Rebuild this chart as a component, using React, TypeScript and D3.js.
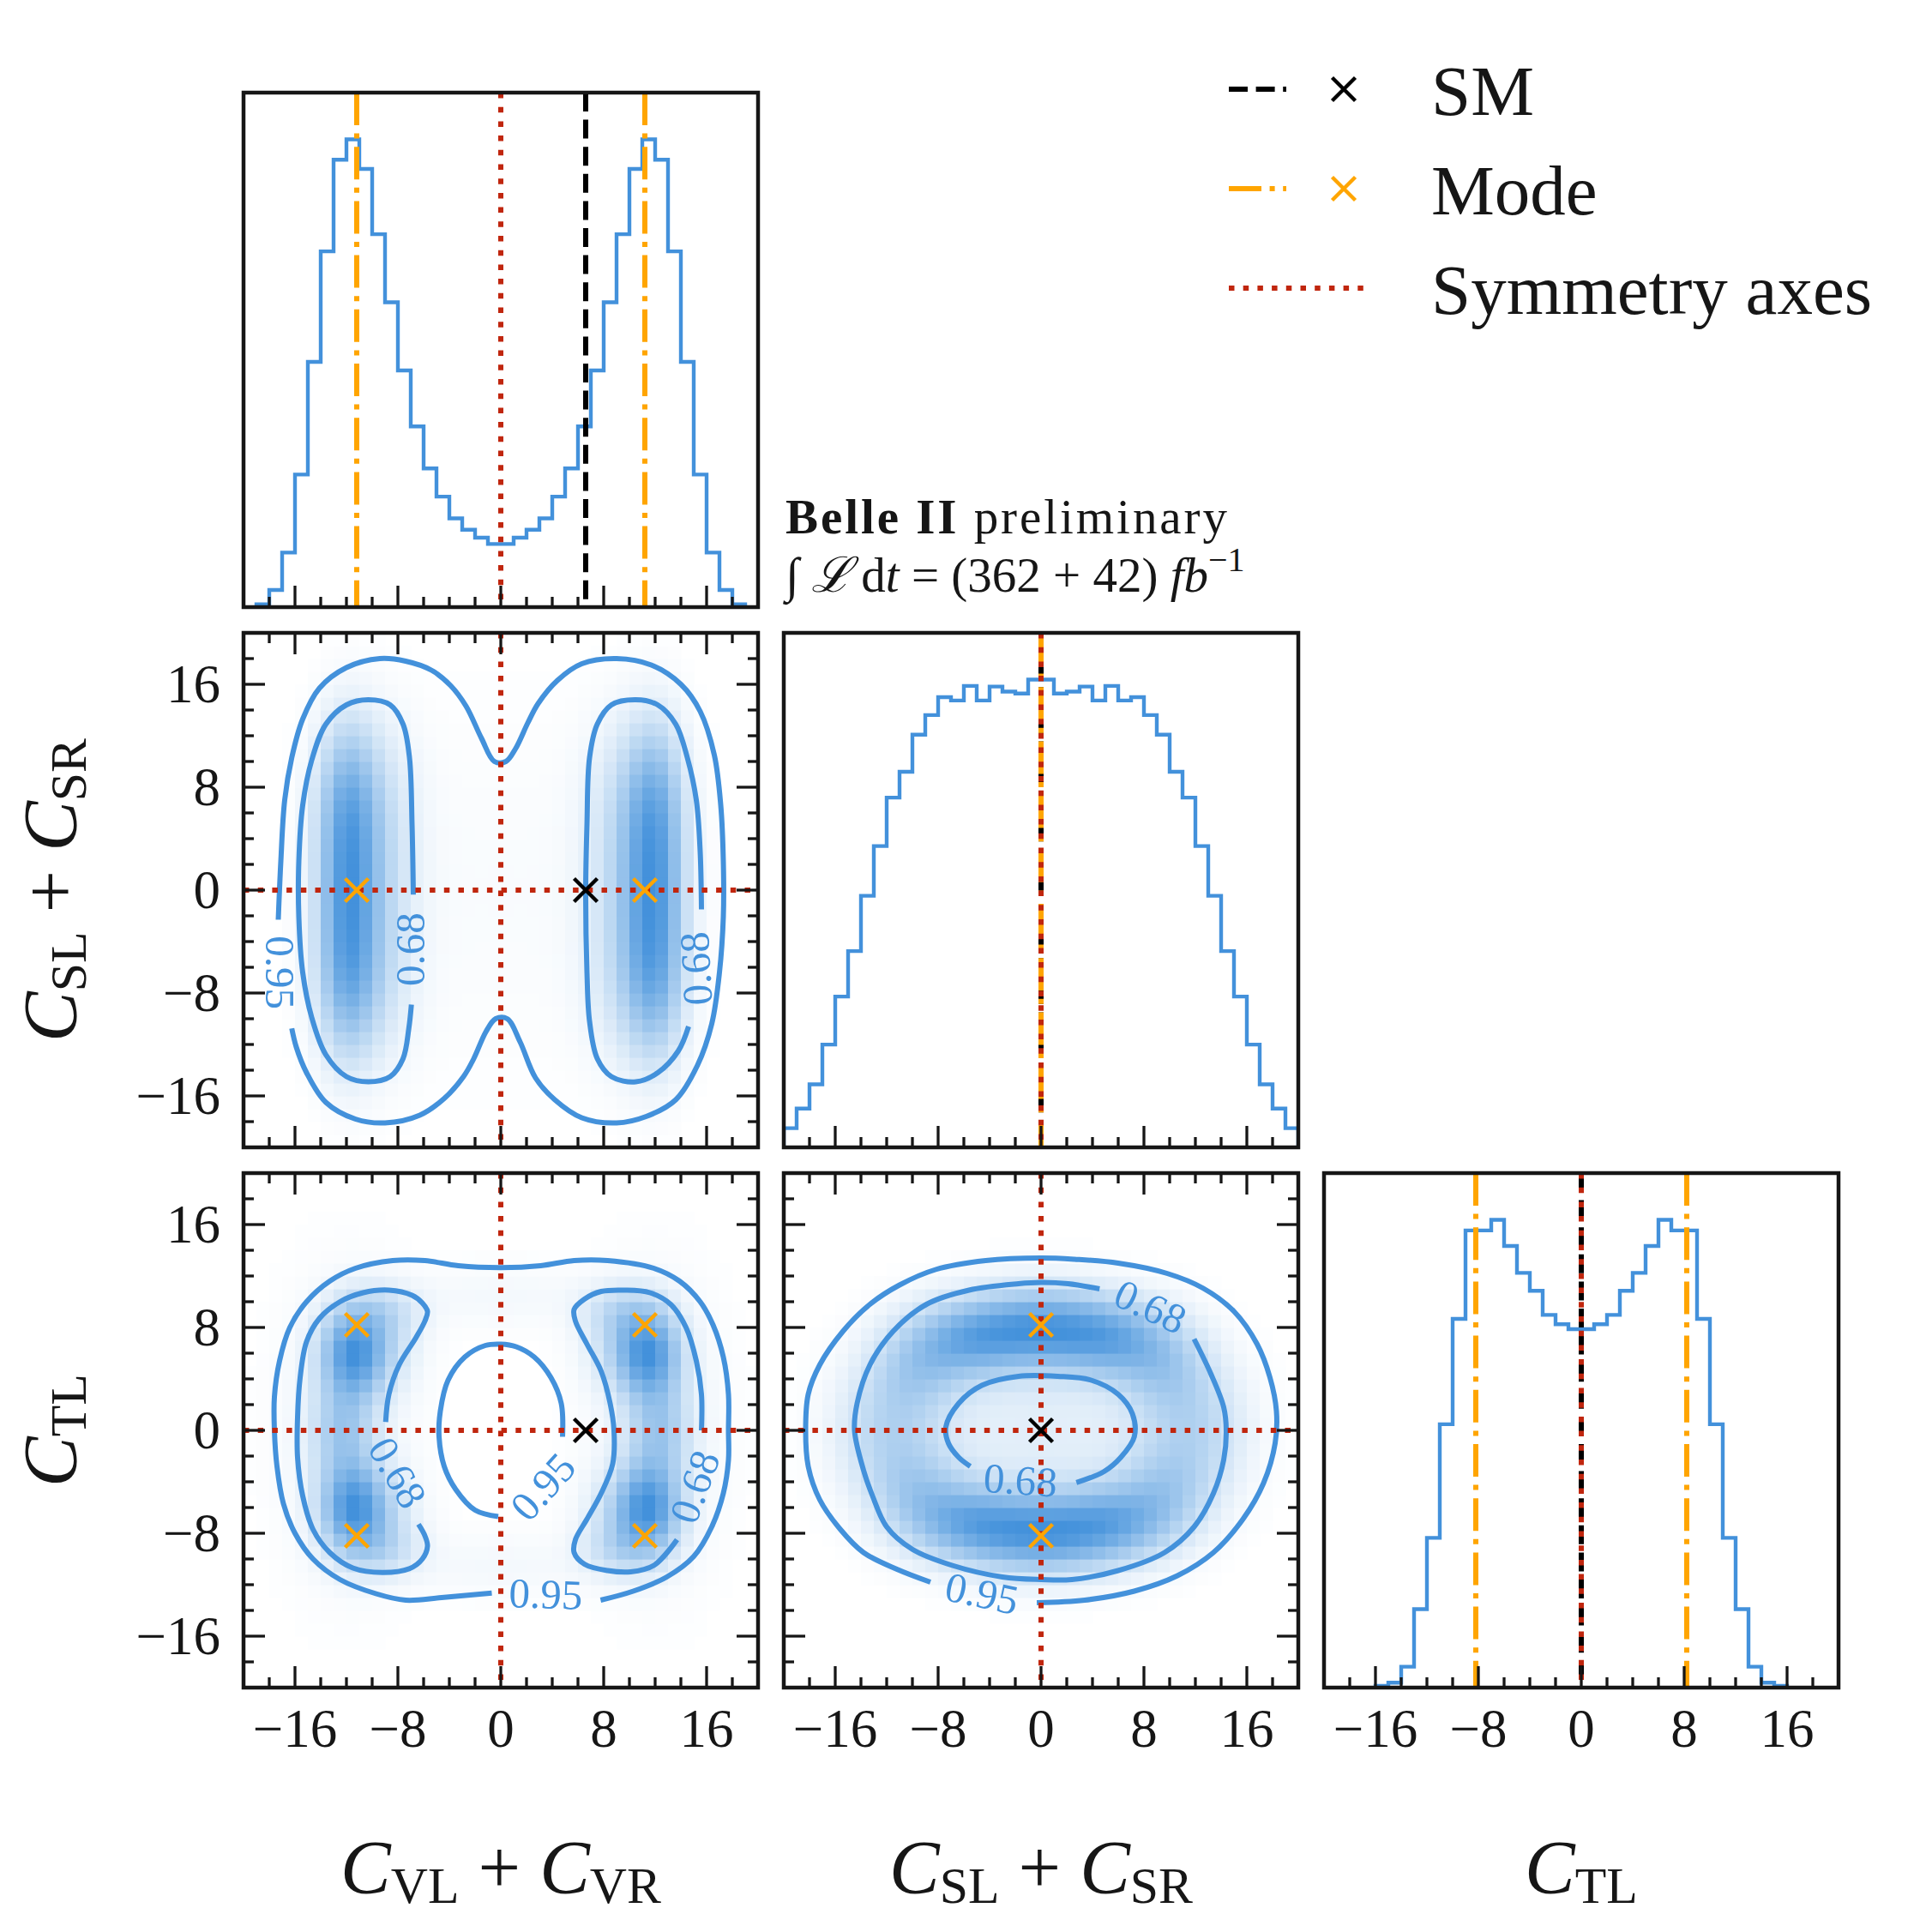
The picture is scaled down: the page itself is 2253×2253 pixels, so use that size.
import * as d3 from 'd3'

// ---------- layout ----------
const SIZE = 2253
const PANEL = 600
const COL_X = [284, 914, 1544]
const ROW_Y = [108, 738, 1368]
const DOMAIN: [number, number] = [-20, 20]
const FONT = '"Liberation Serif", "DejaVu Serif", serif'

const BLUE = '#4391db'
const ORANGE = '#ffa500'
const RED = '#c0260e'
const INK = '#161616'

const MAJOR = [-16, -8, 0, 8, 16]
const MINOR = [-18, -14, -12, -10, -6, -4, -2, 2, 4, 6, 10, 12, 14, 18]

// ---------- 1D marginals (unit-width bins) ----------
const CV_BIN_START = -19
const CV_COUNTS = [8, 48, 153, 372, 688, 998, 1255, 1312, 1229, 1046, 855, 664, 507, 389, 310, 249, 217, 195, 177,
  177, 195, 217, 249, 310, 389, 507, 664, 855, 1046, 1229, 1312, 1255, 998, 688, 372, 153, 48, 8]
const CS_BIN_START = -20
const CS_COUNTS = [58, 117, 190, 310, 455, 592, 759, 909, 1055, 1133, 1245, 1304, 1358, 1348, 1392, 1348, 1390, 1375, 1369, 1411,
  1411, 1369, 1375, 1390, 1348, 1392, 1348, 1358, 1304, 1245, 1133, 1055, 909, 759, 592, 455, 310, 190, 117, 58]
const CT_BIN_START = -16
const CT_COUNTS = [5, 15, 63, 237, 452, 795, 1113, 1380, 1380, 1412, 1333, 1252, 1198, 1125, 1097, 1082,
  1082, 1097, 1125, 1198, 1252, 1333, 1412, 1380, 1380, 1113, 795, 452, 237, 63, 15, 5]

// reference values
const SM_CV = 6.6
const SM_CS = 0
const SM_CT = 0
const MODE_CV = [-11.2, 11.2]
const MODE_CS = [0]
const MODE_CT = [-8.2, 8.2]
const SYM = 0

// ---------- 2D density blobs: [cx, cy, sx, sy, weight] ----------
const BLOBS_VS = [
  // left band
  [-12, -8, 1.6, 4.2, 1], [-12, -2.7, 1.6, 4.2, 1], [-12, 2.7, 1.6, 4.2, 1], [-12, 8, 1.6, 4.2, 1],
  [-9.8, -8, 2.2, 4.2, 0.4], [-9.8, -2.7, 2.2, 4.2, 0.4], [-9.8, 2.7, 2.2, 4.2, 0.4], [-9.8, 8, 2.2, 4.2, 0.4],
  // right band
  [12, -8, 1.6, 4.2, 1], [12, -2.7, 1.6, 4.2, 1], [12, 2.7, 1.6, 4.2, 1], [12, 8, 1.6, 4.2, 1],
  [9.8, -8, 2.2, 4.2, 0.4], [9.8, -2.7, 2.2, 4.2, 0.4], [9.8, 2.7, 2.2, 4.2, 0.4], [9.8, 8, 2.2, 4.2, 0.4],
  // faint floor
  [0, 0, 9, 10, 0.08],
]
const BLOBS_VT = [
  [-11.6, 6, 1.7, 2.4, 1], [-11.6, -6, 1.7, 2.4, 1], [-12.3, 0, 1.7, 2.6, 0.55],
  [-9.8, 6.3, 2.1, 2.3, 0.35], [-9.8, -6.3, 2.1, 2.3, 0.35],
  [-9.2, 9.3, 2.1, 1.5, 0.3], [-9.2, -9.3, 2.1, 1.5, 0.3],
  [-12, 0, 3.6, 8, 0.12],
  [11.6, 6, 1.7, 2.4, 1], [11.6, -6, 1.7, 2.4, 1], [12.3, 0, 1.7, 2.6, 0.55],
  [9.8, 6.3, 2.1, 2.3, 0.35], [9.8, -6.3, 2.1, 2.3, 0.35],
  [9.2, 9.3, 2.1, 1.5, 0.3], [9.2, -9.3, 2.1, 1.5, 0.3],
  [12, 0, 3.6, 8, 0.12],
  [0, 10.5, 5, 1.8, 0.08], [0, -10.5, 5, 1.8, 0.08],
]
const BLOBS_ST = [
  [0, 8, 3.5, 2.1, 1], [0, -8, 3.5, 2.1, 1],
  [-5.5, 7.2, 3, 2.1, 0.75], [5.5, 7.2, 3, 2.1, 0.75], [-5.5, -7.2, 3, 2.1, 0.75], [5.5, -7.2, 3, 2.1, 0.75],
  [-9.5, 5, 2.6, 2.6, 0.45], [9.5, 5, 2.6, 2.6, 0.45], [-9.5, -5, 2.6, 2.6, 0.45], [9.5, -5, 2.6, 2.6, 0.45],
  [-12, 0, 2.8, 3.5, 0.42], [12, 0, 2.8, 3.5, 0.42],
  [0, 0, 7, 5.5, 0.2],
]

// ---------- credible-region contours (data units) ----------
const VS_95 = [[-16.25, -10.75], [-15.9, -12.2], [-15.1, -14.2], [-13.6, -16.5], [-11.3, -17.8], [-9.0, -18.1], [-6.3, -17.5],
  [-4.4, -16.2], [-2.9, -14.5], [-2.1, -13.1], [-1.15, -11.0], [-0.4, -10.0], [0.5, -10.0], [1.5, -11.8], [2.7, -14.6],
  [4.2, -16.3], [6.3, -17.7], [9.0, -18.1], [11.3, -17.6], [13.6, -16.3], [15.3, -13.6], [16.4, -10.4], [17.0, -6.4],
  [17.3, -2.1], [17.3, 2.25], [17.1, 6.6], [16.6, 10.5], [15.5, 13.9], [14.0, 16.0], [11.7, 17.5], [9.0, 18.0],
  [6.3, 17.6], [4.4, 16.3], [2.9, 14.5], [2.1, 13.0], [1.15, 11.0], [0.4, 10.0], [-0.5, 10.0], [-1.5, 11.8],
  [-2.7, 14.3], [-3.9, 15.9], [-5.4, 17.1], [-7.4, 17.8], [-9.4, 18.0], [-12.0, 17.3], [-14.1, 15.7], [-15.4, 13.3],
  [-16.25, 10.3], [-16.8, 7.0], [-17.1, 2.25], [-17.3, -2.3]]
const VS_68_L = [[-6.95, -8.9], [-7.15, -10.75], [-7.6, -13.1], [-8.6, -14.5], [-10.3, -14.9], [-12.0, -14.5], [-13.6, -12.8],
  [-14.7, -9.9], [-15.4, -6.4], [-15.7, -2.1], [-15.7, 2.25], [-15.4, 6.6], [-14.7, 10.1], [-13.6, 12.9], [-12.0, 14.4],
  [-10.3, 14.8], [-8.6, 14.4], [-7.6, 12.9], [-7.1, 10.3], [-6.9, 5.1], [-6.8, -0.35]]
const VS_68_R = [[14.6, -10.6], [13.8, -12.5], [12.2, -14.2], [10.5, -14.9], [8.6, -14.5], [7.5, -13.1], [6.9, -10.2],
  [6.7, -6.4], [6.6, 0], [6.7, 5.1], [6.9, 10.3], [7.5, 12.9], [8.6, 14.4], [10.5, 14.8], [12.2, 14.4], [13.6, 12.9],
  [14.5, 10.3], [15.2, 7.0], [15.5, 3.0], [15.6, -1.5]]
const VS_LABELS: [string, number, number, number][] = [
  ['0.95', -17.2, -6.4, 90], ['0.68', -7.0, -4.6, -90], ['0.68', 15.2, -6.1, -93]]

const VT_95_OUT = [[7.76, -13.2], [10.3, -12.5], [12.9, -11.4], [15.0, -9.8], [16.4, -7.5], [17.3, -4.9], [17.7, -2.3],
  [17.7, 0], [17.7, 2.8], [17.3, 5.7], [16.5, 8.2], [15.5, 10.0], [13.9, 11.6], [11.9, 12.6], [8.3, 13.2], [5.7, 13.2],
  [3.1, 12.8], [0, 12.65], [-3.3, 12.8], [-5.9, 13.2], [-8.4, 13.2], [-11.3, 12.6], [-13.3, 11.6], [-15.1, 10.0],
  [-16.4, 8.0], [-17.2, 5.4], [-17.6, 2.6], [-17.6, 0], [-17.4, -2.8], [-16.9, -5.7], [-16.0, -8.0], [-14.6, -10.0],
  [-12.5, -11.6], [-9.7, -12.7], [-7.4, -13.2], [-4.6, -13.0], [-0.7, -12.65]]
const VT_95_IN = [[4.8, -0.5], [4.7, 2.1], [3.9, 4.1], [2.6, 5.7], [1.2, 6.5], [0, 6.7], [-1.2, 6.6], [-2.8, 5.7],
  [-4.1, 3.9], [-4.7, 1.5], [-4.8, -0.5], [-4.4, -2.8], [-3.5, -4.6], [-2.0, -6.2], [-0.2, -6.7]]
const VT_68_L = [[-6.4, -7.3], [-5.9, -8.2], [-5.7, -9.0], [-6.1, -10.0], [-7.1, -10.75], [-9.2, -11.05], [-11.5, -10.7],
  [-13.3, -9.5], [-14.6, -7.7], [-15.4, -5.1], [-15.8, -2.1], [-15.8, 1.0], [-15.6, 4.1], [-15.1, 6.9], [-14.1, 8.7],
  [-12.5, 10.0], [-10.7, 10.7], [-8.7, 10.9], [-6.9, 10.5], [-6.1, 9.9], [-5.7, 9.25], [-5.9, 8.5], [-6.6, 7.2],
  [-7.9, 5.1], [-8.7, 2.8], [-8.95, 0.65]]
const VT_68_R = [[13.7, -8.5], [11.9, -10.5], [10.1, -11.0], [8.3, -10.9], [6.5, -10.4], [5.7, -9.5], [5.8, -8.5],
  [6.7, -6.9], [7.8, -4.9], [8.7, -2.6], [8.8, 0], [8.5, 2.1], [7.8, 4.6], [6.7, 6.7], [5.8, 8.5], [5.7, 9.4],
  [6.5, 10.2], [7.8, 10.8], [9.6, 10.9], [11.6, 10.7], [13.2, 9.8], [14.4, 8.0], [15.2, 5.4], [15.6, 2.8], [15.6, 0]]
const VT_LABELS: [string, number, number, number][] = [
  ['0.95', 3.5, -12.75, 2], ['0.95', 3.3, -4.4, -48], ['0.68', -8.05, -3.3, 60], ['0.68', 15.1, -4.4, -70]]

const ST_95 = [[-0.33, -13.4], [3.4, -13.2], [7.25, -12.5], [10.6, -11.3], [13.4, -9.5], [15.7, -6.9], [17.3, -4.1],
  [18.2, -1.0], [18.3, 1.5], [17.8, 4.1], [16.8, 6.7], [15.0, 9.25], [12.6, 11.05], [9.8, 12.2], [6.0, 13.0],
  [2.6, 13.3], [0, 13.4], [-4.3, 13.2], [-8.2, 12.5], [-11.0, 11.3], [-13.3, 9.8], [-15.4, 7.7], [-17.2, 5.1],
  [-18.1, 2.8], [-18.3, 0], [-18.1, -2.8], [-17.2, -5.4], [-15.6, -7.7], [-13.8, -9.5], [-11.2, -10.8], [-8.6, -11.8]]
const ST_68_OUT = [[11.9, 7.1], [13.2, 4.4], [14.2, 1.8], [14.4, 0], [14.2, -2.3], [13.4, -4.9], [11.9, -7.5],
  [9.6, -9.5], [6.0, -10.9], [2.4, -11.6], [0, -11.6], [-3.0, -11.4], [-6.9, -10.5], [-10.0, -9.25], [-12.0, -7.5],
  [-13.1, -5.1], [-13.8, -3.1], [-14.5, 0], [-14.3, 2.1], [-13.3, 5.1], [-11.5, 7.7], [-8.9, 9.8], [-5.6, 10.9],
  [-1.75, 11.4], [0, 11.5], [2.1, 11.4], [4.55, 11.0]]
const ST_68_IN = [[2.75, -4.06], [4.9, -3.2], [6.2, -2.1], [7.25, -0.5], [7.1, 1.3], [6.0, 2.8], [3.9, 3.9],
  [1.3, 4.2], [-1.75, 4.2], [-4.6, 3.5], [-6.4, 2.1], [-7.4, 0.26], [-7.2, -1.0], [-6.4, -2.1], [-5.5, -2.8]]
const ST_LABELS: [string, number, number, number][] = [
  ['0.95', -4.6, -12.7, 12], ['0.68', 8.5, 9.6, 25], ['0.68', -1.6, -3.9, 4]]

// ---------- helpers ----------
type Pt = number[]

function density(blobs: number[][], x: number, y: number) {
  return d3.sum(blobs, ([cx, cy, sx, sy, w]) =>
    w * Math.exp(-0.5 * (((x - cx) / sx) ** 2 + ((y - cy) / sy) ** 2)))
}

function stepPoints(start: number, counts: number[]): [number, number][] {
  const pts: [number, number][] = [[start, 0]]
  counts.forEach((c, i) => {
    pts.push([start + i, c], [start + i + 1, c])
  })
  pts.push([start + counts.length, 0])
  return pts
}

const LINE_STYLE = {
  sm: { stroke: '#000000', dash: '22 9.6' },
  mode: { stroke: ORANGE, dash: '38 9.6 6 9.6' },
  sym: { stroke: RED, dash: '6.5 10.2' },
}
const REF_WIDTH = 6

function Ticks({ col, row, allSides }: { col: number; row: number; allSides: boolean }) {
  const x0 = COL_X[col]
  const y0 = ROW_Y[row]
  const xs = d3.scaleLinear(DOMAIN, [x0, x0 + PANEL])
  const ys = d3.scaleLinear(DOMAIN, [y0 + PANEL, y0])
  const items: { v: number; len: number }[] = [
    ...MAJOR.map(v => ({ v, len: 25 })),
    ...MINOR.map(v => ({ v, len: 12 })),
  ]
  return (
    <g stroke={INK} strokeWidth={3.3}>
      {items.map(({ v, len }, i) => (
        <g key={i}>
          <line x1={xs(v)} x2={xs(v)} y1={y0 + PANEL} y2={y0 + PANEL - len} />
          {allSides && <>
            <line x1={xs(v)} x2={xs(v)} y1={y0} y2={y0 + len} />
            <line x1={x0} x2={x0 + len} y1={ys(v)} y2={ys(v)} />
            <line x1={x0 + PANEL} x2={x0 + PANEL - len} y1={ys(v)} y2={ys(v)} />
          </>}
        </g>
      ))}
    </g>
  )
}

function Frame({ col, row }: { col: number; row: number }) {
  return <rect x={COL_X[col]} y={ROW_Y[row]} width={PANEL} height={PANEL} fill="none" stroke={INK} strokeWidth={4.5} />
}

function HistPanel({ col, row, start, counts, refs }: {
  col: number; row: number; start: number; counts: number[]
  refs: { kind: 'sm' | 'mode' | 'sym'; x: number }[]
}) {
  const x0 = COL_X[col]
  const y0 = ROW_Y[row]
  const xs = d3.scaleLinear(DOMAIN, [x0, x0 + PANEL])
  const ys = d3.scaleLinear([0, 1.1 * (d3.max(counts) ?? 1)], [y0 + PANEL, y0])
  const path = d3.line<[number, number]>().x(d => xs(d[0])).y(d => ys(d[1]))(stepPoints(start, counts)) ?? ''
  const id = `clip-${col}-${row}`
  return (
    <g>
      <clipPath id={id}><rect x={x0} y={y0} width={PANEL} height={PANEL} /></clipPath>
      <g clipPath={`url(#${id})`}>
        <path d={path} fill="none" stroke={BLUE} strokeWidth={4.4} strokeLinejoin="miter" />
        {refs.map((r, i) => (
          <line key={i} x1={xs(r.x)} x2={xs(r.x)} y1={y0} y2={y0 + PANEL}
            stroke={LINE_STYLE[r.kind].stroke} strokeWidth={REF_WIDTH} strokeDasharray={LINE_STYLE[r.kind].dash} />
        ))}
      </g>
      <Ticks col={col} row={row} allSides={false} />
      <Frame col={col} row={row} />
    </g>
  )
}

function Cross({ x, y, color }: { x: number; y: number; color: string }) {
  return <path d="M-13.5,-13.5L13.5,13.5M-13.5,13.5L13.5,-13.5" transform={`translate(${x},${y})`} stroke={color} strokeWidth={4.4} fill="none" />
}

function DensityPanel({ col, row, blobs, contours, labels, modes, sm }: {
  col: number; row: number; blobs: number[][]; contours: Pt[][]
  labels: [string, number, number, number][]; modes: [number, number][]; sm: [number, number]
}) {
  const x0 = COL_X[col]
  const y0 = ROW_Y[row]
  const xs = d3.scaleLinear(DOMAIN, [x0, x0 + PANEL])
  const ys = d3.scaleLinear(DOMAIN, [y0 + PANEL, y0])
  const cells = d3.cross(d3.range(-20, 20), d3.range(-20, 20)).map(([i, j]) => ({
    i, j, v: density(blobs, i + 0.5, j + 0.5),
  }))
  const vmax = d3.max(cells, c => c.v) ?? 1
  const color = d3.scaleLinear<string>([0, vmax], ['#ffffff', BLUE]).interpolate(d3.interpolateRgb)
  const line = d3.line<Pt>().x(d => xs(d[0])).y(d => ys(d[1])).curve(d3.curveCatmullRom.alpha(0.5))
  const id = `clip-${col}-${row}`
  return (
    <g>
      <clipPath id={id}><rect x={x0} y={y0} width={PANEL} height={PANEL} /></clipPath>
      <g clipPath={`url(#${id})`}>
        {cells.filter(c => c.v / vmax > 0.008).map(c => (
          <rect key={`${c.i}_${c.j}`} x={xs(c.i)} y={ys(c.j + 1)} width={xs(c.i + 1) - xs(c.i) + 0.6}
            height={ys(c.j) - ys(c.j + 1) + 0.6} fill={color(c.v)} />
        ))}
        {contours.map((c, i) => (
          <path key={i} d={line(c) ?? ''} fill="none" stroke={BLUE} strokeWidth={6} strokeLinecap="butt" strokeLinejoin="round" />
        ))}
        {labels.map(([t, x, y, a], i) => (
          <text key={i} transform={`translate(${xs(x)},${ys(y)}) rotate(${a})`} textAnchor="middle" dy="0.33em"
            fontFamily={FONT} fontSize={49} fill={BLUE}>{t}</text>
        ))}
        <line x1={xs(SYM)} x2={xs(SYM)} y1={y0} y2={y0 + PANEL} stroke={RED} strokeWidth={REF_WIDTH} strokeDasharray={LINE_STYLE.sym.dash} />
        <line x1={x0} x2={x0 + PANEL} y1={ys(SYM)} y2={ys(SYM)} stroke={RED} strokeWidth={REF_WIDTH} strokeDasharray={LINE_STYLE.sym.dash} />
        {modes.map(([mx, my], i) => <Cross key={i} x={xs(mx)} y={ys(my)} color={ORANGE} />)}
        <Cross x={xs(sm[0])} y={ys(sm[1])} color="#000000" />
      </g>
      <Ticks col={col} row={row} allSides={true} />
      <Frame col={col} row={row} />
    </g>
  )
}

function MathLabel({ subs, fontSize, transform }: { subs: string[]; fontSize: number; transform: string }) {
  const sub = fontSize * 0.68
  const shift = fontSize * 0.14
  return (
    <text transform={transform} textAnchor="middle" fontFamily={FONT} fontSize={fontSize} fill={INK}>
      {subs.map((s, i) => (
        <tspan key={i}>
          {i > 0 && <tspan dy={-shift}>{' + '}</tspan>}
          <tspan fontStyle="italic">C</tspan>
          <tspan fontSize={sub} dy={shift}>{s}</tspan>
        </tspan>
      ))}
    </text>
  )
}

const X_LABELS = [['VL', 'VR'], ['SL', 'SR'], ['TL']]
const Y_LABELS = [null, ['SL', 'SR'], ['TL']]

export default function App() {
  const tickFmt = (v: number) => (v < 0 ? `\u2212${-v}` : `${v}`)
  const legend = [
    { kind: 'sm' as const, label: 'SM', cross: '#000000', len: 67 },
    { kind: 'mode' as const, label: 'Mode', cross: ORANGE, len: 67 },
    { kind: 'sym' as const, label: 'Symmetry axes', cross: null, len: 167 },
  ]
  return (
    <svg width={SIZE} height={SIZE} viewBox={`0 0 ${SIZE} ${SIZE}`}
      style={{ position: 'absolute', left: 0, top: 0, background: '#ffffff' }}>
      <rect width={SIZE} height={SIZE} fill="#ffffff" />

      <HistPanel col={0} row={0} start={CV_BIN_START} counts={CV_COUNTS}
        refs={[{ kind: 'sm', x: SM_CV }, ...MODE_CV.map(x => ({ kind: 'mode' as const, x })), { kind: 'sym', x: SYM }]} />
      <HistPanel col={1} row={1} start={CS_BIN_START} counts={CS_COUNTS}
        refs={[{ kind: 'sm', x: SM_CS }, ...MODE_CS.map(x => ({ kind: 'mode' as const, x })), { kind: 'sym', x: SYM }]} />
      <HistPanel col={2} row={2} start={CT_BIN_START} counts={CT_COUNTS}
        refs={[{ kind: 'sm', x: SM_CT }, ...MODE_CT.map(x => ({ kind: 'mode' as const, x })), { kind: 'sym', x: SYM }]} />

      <DensityPanel col={0} row={1} blobs={BLOBS_VS} contours={[VS_95, VS_68_L, VS_68_R]} labels={VS_LABELS}
        modes={MODE_CV.map(x => [x, 0] as [number, number])} sm={[SM_CV, SM_CS]} />
      <DensityPanel col={0} row={2} blobs={BLOBS_VT} contours={[VT_95_OUT, VT_95_IN, VT_68_L, VT_68_R]} labels={VT_LABELS}
        modes={d3.cross(MODE_CV, MODE_CT) as [number, number][]} sm={[SM_CV, SM_CT]} />
      <DensityPanel col={1} row={2} blobs={BLOBS_ST} contours={[ST_95, ST_68_OUT, ST_68_IN]} labels={ST_LABELS}
        modes={MODE_CT.map(y => [MODE_CS[0], y] as [number, number])} sm={[SM_CS, SM_CT]} />

      {/* tick labels */}
      <g fontFamily={FONT} fontSize={63} fill={INK}>
        {[0, 1, 2].map(col => {
          const xs = d3.scaleLinear(DOMAIN, [COL_X[col], COL_X[col] + PANEL])
          return MAJOR.map(v => (
            <text key={`x${col}${v}`} x={xs(v)} y={2037} textAnchor="middle">{tickFmt(v)}</text>
          ))
        })}
        {[1, 2].map(row => {
          const ys = d3.scaleLinear(DOMAIN, [ROW_Y[row] + PANEL, ROW_Y[row]])
          return MAJOR.map(v => (
            <text key={`y${row}${v}`} x={257} y={ys(v) + 21} textAnchor="end">{tickFmt(v)}</text>
          ))
        })}
      </g>

      {/* axis labels */}
      {X_LABELS.map((subs, col) => (
        <MathLabel key={`xl${col}`} subs={subs} fontSize={88}
          transform={`translate(${COL_X[col] + PANEL / 2},2207)`} />
      ))}
      {Y_LABELS.map((subs, row) => subs && (
        <MathLabel key={`yl${row}`} subs={subs} fontSize={88}
          transform={`translate(88,${ROW_Y[row] + PANEL / 2}) rotate(-90)`} />
      ))}

      {/* experiment tag */}
      <text x={916} y={622} fontFamily={FONT} fontSize={57} fill={INK} textLength={515} lengthAdjust="spacing">
        <tspan fontWeight="bold">Belle II</tspan> preliminary
      </text>
      <text x={916} y={690} fontFamily={FONT} fontSize={57} fill={INK}>
        {'\u222B '}<tspan fontStyle="italic">{'\u2112'}</tspan>{'\u2009d'}<tspan fontStyle="italic">t</tspan>
        {' = (362 + 42) '}<tspan fontStyle="italic">fb</tspan>
        <tspan fontSize={40} dy={-24}>{'\u22121'}</tspan>
      </text>

      {/* legend */}
      {legend.map((l, i) => {
        const y = [104, 220, 336][i]
        const st = LINE_STYLE[l.kind]
        return (
          <g key={l.label}>
            <line x1={1433} x2={1433 + l.len} y1={y} y2={y} stroke={st.stroke} strokeWidth={REF_WIDTH} strokeDasharray={st.dash} />
            {l.cross && <Cross x={1567} y={y} color={l.cross} />}
            <text x={1669} y={y + 30} fontFamily={FONT} fontSize={83} fill={INK}>{l.label}</text>
          </g>
        )
      })}
    </svg>
  )
}
